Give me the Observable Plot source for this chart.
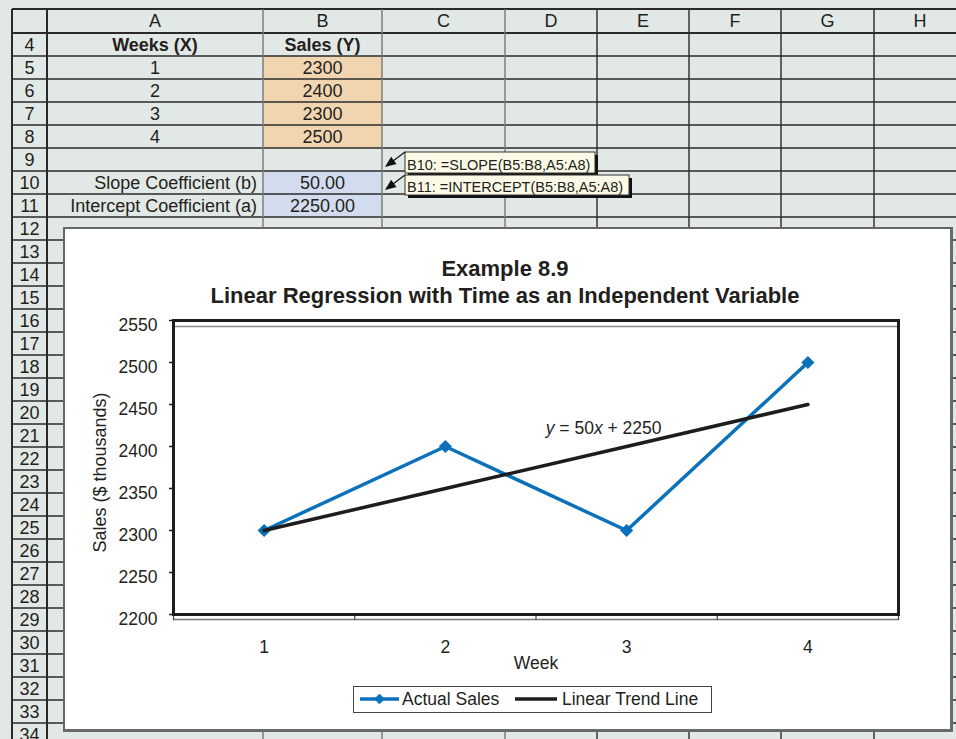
<!DOCTYPE html>
<html><head><meta charset="utf-8">
<script src="https://cdn.jsdelivr.net/npm/d3@7"></script>
<script src="https://cdn.jsdelivr.net/npm/@observablehq/plot@0.6"></script>
<style>
html,body{margin:0;padding:0;}
body{width:956px;height:739px;overflow:hidden;position:relative;background:#e2e8e5;font-family:"Liberation Sans",Arial,sans-serif;color:#231f20;}
#sheet{position:absolute;left:0;top:0;}
#chartbox{position:absolute;left:63px;top:227px;width:890px;height:505px;background:#fff;}
#plot{position:absolute;left:0;top:0;}
#chartborder{position:absolute;left:63px;top:227px;width:890px;height:505px;box-sizing:border-box;border-left:2px solid #666;border-top:2px solid #666;border-right:3px solid #6a6a6a;border-bottom:3px solid #6a6a6a;pointer-events:none;}
#legend{position:absolute;left:290px;top:459px;width:359px;height:27px;box-sizing:border-box;border:1.5px solid #444;background:#fff;font-size:17.5px;line-height:24px;}
#legend .item{position:absolute;top:0;height:24px;white-space:nowrap;}
#legend svg{position:absolute;top:0;}
</style></head><body>
<div id="sheet"></div>
<div id="chartbox"><div id="plot"></div><div id="legend"></div></div>
<div id="chartborder"></div>
<script>
// ---------- data ----------
const colLetters = ["A", "B", "C", "D", "E", "F", "G", "H"];
const rowNumbers = d3.range(4, 35);
const tableHeaders = ["Weeks (X)", "Sales (Y)"];
const weeks = [1, 2, 3, 4];
const sales = [2300, 2400, 2300, 2500];
const trend = [2300, 2350, 2400, 2450];
const coefLabels = ["Slope Coefficient (b)", "Intercept Coefficient (a)"];
const coefValues = [50, 2250];
const formulaNotes = ["B10: =SLOPE(B5:B8,A5:A8)", "B11: =INTERCEPT(B5:B8,A5:A8)"];
const yTicks = [2200, 2250, 2300, 2350, 2400, 2450, 2500, 2550];
const titleLines = ["Example 8.9", "Linear Regression with Time as an Independent Variable"];
const xLabel = "Week";
const yLabel = "Sales ($ thousands)";
const seriesNames = ["Actual Sales", "Linear Trend Line"];

// ---------- spreadsheet background ----------
const W = 956, H = 739;
const colEdges = [12, 47, 263, 382, 505, 597, 689, 781, 874, 966];
const headerTop = 9, headerBottom = 33, rowH = 23;
const rowTop = r => headerBottom + (r - rowNumbers[0]) * rowH;
const ink = "#231f20";
const sheet = d3.select("#sheet").append("svg").attr("width", W).attr("height", H)
  .style("font-family", '"Liberation Sans", Arial, sans-serif');
sheet.append("rect").attr("width", W).attr("height", H).attr("fill", "#e2e8e5");

function fillCells(ci, r0, r1, color) {
  sheet.append("rect").attr("x", colEdges[ci + 1]).attr("y", rowTop(r0))
    .attr("width", colEdges[ci + 2] - colEdges[ci + 1]).attr("height", (r1 - r0 + 1) * rowH)
    .attr("fill", color);
}
const firstDataRow = 5;
fillCells(1, firstDataRow, firstDataRow + sales.length - 1, "#f1d5b1");
fillCells(1, 10, 11, "#d3dcef");

// grid lines
const hl = [headerTop, ...d3.range(rowNumbers.length + 1).map(i => headerBottom + i * rowH)];
sheet.selectAll("line.h").data(hl).join("line")
  .attr("x1", 12).attr("x2", W).attr("y1", d => d).attr("y2", d => d)
  .attr("stroke", "#2a2a2a").attr("stroke-width", (d, i) => i < 2 ? 2 : 1.4);
sheet.selectAll("line.v").data(colEdges).join("line")
  .attr("x1", d => d).attr("x2", d => d).attr("y1", headerTop).attr("y2", H)
  .attr("stroke", d => (d === 263 || d === 382 || d === 505) ? "#777" : "#2a2a2a")
  .attr("stroke-width", (d, i) => i < 2 ? 2 : 1.4);

function cellText(txt, x, y, anchor, bold, size) {
  sheet.append("text").attr("x", x).attr("y", y).attr("text-anchor", anchor)
    .attr("font-size", size || 18).attr("font-weight", bold ? "bold" : null)
    .attr("fill", ink).text(txt);
}
// column letters
colLetters.forEach((c, i) => cellText(c, (colEdges[i + 1] + colEdges[i + 2]) / 2, 27, "middle"));
// row numbers
rowNumbers.forEach(r => cellText(String(r), 29.5, rowTop(r) + 18, "middle"));
// table
const cx = i => (colEdges[i + 1] + colEdges[i + 2]) / 2;
tableHeaders.forEach((t, i) => cellText(t, cx(i), rowTop(4) + 18, "middle", true));
weeks.forEach((w, i) => {
  cellText(String(w), cx(0), rowTop(firstDataRow + i) + 18, "middle");
  cellText(String(sales[i]), cx(1), rowTop(firstDataRow + i) + 18, "middle");
});
coefLabels.forEach((t, i) => {
  cellText(t, colEdges[2] - 6, rowTop(10 + i) + 18, "end");
  cellText(coefValues[i].toFixed(2), cx(1), rowTop(10 + i) + 18, "middle");
});
// formula notes with arrows
const noteBoxes = [{x: 405, y: 152, w: 190, h: 21}, {x: 405, y: 175, w: 224, h: 20}];
formulaNotes.forEach((t, i) => {
  const b = noteBoxes[i];
  sheet.append("rect").attr("x", b.x + 3).attr("y", b.y + 3).attr("width", b.w).attr("height", b.h).attr("fill", "#111");
  sheet.append("rect").attr("x", b.x).attr("y", b.y).attr("width", b.w).attr("height", b.h)
    .attr("fill", "#fcfae6").attr("stroke", "#333").attr("stroke-width", 1);
  sheet.append("text").attr("x", b.x + 2).attr("y", b.y + b.h - 3).attr("font-size", 14.5).attr("fill", ink).text(t);
  const tip = [385, b.y + 15], from = [b.x, b.y];
  sheet.append("line").attr("x1", from[0]).attr("y1", from[1]).attr("x2", tip[0] + 6).attr("y2", tip[1] - 4.5)
    .attr("stroke", "#111").attr("stroke-width", 1.2);
  const ang = Math.atan2(from[1] - tip[1], from[0] - tip[0]);
  const L = 11, Wd = 4.5;
  const bx = tip[0] + L * Math.cos(ang), by = tip[1] + L * Math.sin(ang);
  const px = -Math.sin(ang) * Wd, py = Math.cos(ang) * Wd;
  sheet.append("polygon").attr("points", `${tip[0]},${tip[1]} ${bx + px},${by + py} ${bx - px},${by - py}`).attr("fill", "#111");
});

// ---------- chart ----------
const blue = "#0b71bb", dark = "#1e1c1d";
const rows = weeks.map((w, i) => ({week: w, sales: sales[i], trend: trend[i]}));
const bounds = weeks.map(w => w - 0.5).concat([weeks[weeks.length - 1] + 0.5]);
const eqText = `y = ${coefValues[0]}x + ${coefValues[1]}`;
const eqAnchor = [{week: weeks[2], value: trend[2]}];

const chart = Plot.plot({
  width: 890, height: 505,
  marginLeft: 110, marginRight: 55, marginTop: 93, marginBottom: 118,
  style: {fontFamily: '"Liberation Sans", Arial, sans-serif', fontSize: "17.5px", color: ink, background: "transparent", overflow: "visible"},
  x: {type: "linear", domain: [bounds[0], bounds[bounds.length - 1]]},
  y: {domain: d3.extent(yTicks)},
  marks: [
    Plot.ruleY([yTicks[yTicks.length - 1]], {dy: 6, stroke: "#8a8a8a", strokeWidth: 1.3}),
    Plot.ruleY([yTicks[0]], {dy: 5, stroke: "#777", strokeWidth: 1.3}),
    Plot.axisX({ticks: bounds, tickSize: 6, tickFormat: () => "", label: null, stroke: "#444", strokeWidth: 1.2}),
    Plot.axisX({ticks: weeks, tickSize: 0, tickPadding: 26, tickFormat: d => String(d), label: null}),
    Plot.axisY({ticks: yTicks, tickSize: 4, tickFormat: () => "", label: null, strokeWidth: 1.5}),
    Plot.axisY({ticks: yTicks, tickSize: 0, tickPadding: 16, dy: 5, tickFormat: d => String(d), label: null}),
    Plot.frame({stroke: dark, strokeWidth: 3}),
    Plot.line(rows, {x: "week", y: "sales", stroke: blue, strokeWidth: 3.5}),
    Plot.dot(rows, {x: "week", y: "sales", symbol: "diamond2", fill: blue, stroke: blue, r: 5}),
    Plot.line(rows, {x: "week", y: "trend", stroke: dark, strokeWidth: 3.5}),
    Plot.text(eqAnchor, {x: "week", y: "value", text: () => eqText, dx: -23, dy: -18, textAnchor: "middle", fontSize: 17.5}),
    Plot.text([titleLines[0]], {frameAnchor: "top", text: d => d, dx: -31, dy: -52, lineAnchor: "middle", textAnchor: "middle", fontWeight: "bold", fontSize: 22}),
    Plot.text([titleLines[1]], {frameAnchor: "top", text: d => d, dx: -31, dy: -25, lineAnchor: "middle", textAnchor: "middle", fontWeight: "bold", fontSize: 22}),
    Plot.text([xLabel], {frameAnchor: "bottom", text: d => d, dy: 49, lineAnchor: "middle", textAnchor: "middle"}),
    Plot.text([yLabel], {frameAnchor: "left", text: d => d, rotate: -90, dx: -73, dy: 5, lineAnchor: "middle", textAnchor: "middle", fontSize: 18})
  ]
});
document.getElementById("plot").appendChild(chart);
// italic variables in the equation
d3.select(chart).selectAll("text").filter(function () { return this.textContent === eqText; })
  .html(`<tspan font-style="italic">y</tspan> = ${coefValues[0]}<tspan font-style="italic">x</tspan> + ${coefValues[1]}`);

// ---------- legend ----------
const legend = d3.select("#legend");
const s1 = legend.append("svg").attr("width", 40).attr("height", 24).style("left", "6px");
s1.append("line").attr("x1", 0).attr("x2", 39).attr("y1", 12).attr("y2", 12).attr("stroke", blue).attr("stroke-width", 3.5);
s1.append("path").attr("d", d3.symbol(d3.symbolDiamond2, 60)()).attr("transform", "translate(19.5,12)").attr("fill", blue).attr("stroke", blue);
legend.append("div").attr("class", "item").style("left", "48px").text(seriesNames[0]);
const s2 = legend.append("svg").attr("width", 44).attr("height", 24).style("left", "161px");
s2.append("line").attr("x1", 0).attr("x2", 42).attr("y1", 12).attr("y2", 12).attr("stroke", dark).attr("stroke-width", 3.5);
legend.append("div").attr("class", "item").style("left", "208px").text(seriesNames[1]);
</script></body></html>
